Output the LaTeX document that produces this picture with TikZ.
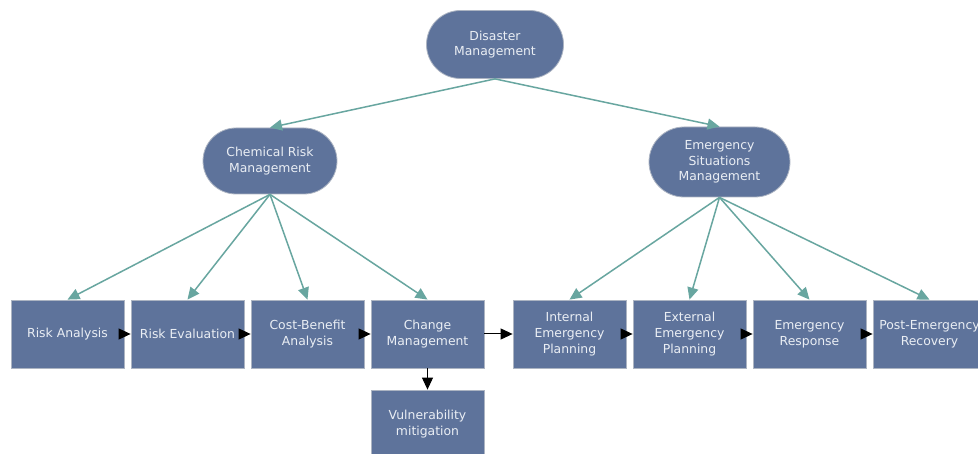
\documentclass[tikz,border=0pt]{standalone}
\usepackage{fontspec}
\setmainfont{DejaVu Sans}
\usetikzlibrary{arrows.meta,shapes.misc}
\definecolor{boxfill}{RGB}{94,115,155}
\definecolor{boxline}{RGB}{172,180,194}
\definecolor{boxtext}{RGB}{234,238,244}
\definecolor{tealedge}{RGB}{104,166,160}
\begin{document}
\begin{tikzpicture}[x=1pt,y=-1pt,
  lbl/.style={text=boxtext, align=center, font=\fontsize{12.4}{15.6}\selectfont, inner sep=0pt},
  pill/.style={lbl, rounded rectangle, draw=boxline, line width=0.8pt, fill=boxfill},
  box/.style={lbl, rectangle, draw=boxline, line width=0.8pt, fill=boxfill, minimum width=113pt, minimum height=68pt},
  tarr/.style={draw=tealedge, line width=1.5pt, -{Triangle[length=12pt,width=11pt]}},
  barr/.style={draw=black, line width=1pt, -{Triangle[length=12pt,width=11pt]}}]
\clip (0,0) rectangle (978,454);
\fill[white] (0,0) rectangle (978,454);
\node[pill, minimum width=137pt, minimum height=68pt] (dm) at (495,44.5) {Disaster\\Management};
\node[pill, minimum width=134pt, minimum height=66pt] (crm) at (270,161) {Chemical Risk\\Management};
\node[pill, minimum width=141pt, minimum height=70pt] (esm) at (719.5,162) {Emergency\\Situations\\Management};
\node[box] (b1) at (67.5,334) {Risk Analysis};
\node[box] (b2) at (187.5,334) {Risk Evaluation};
\node[box] (b3) at (307.5,334) {Cost-Benefit\\Analysis};
\node[box] (b4) at (427.5,334) {Change\\Management};
\node[box] (b5) at (569.5,334) {Internal\\Emergency\\Planning};
\node[box] (b6) at (689.5,334) {External\\Emergency\\Planning};
\node[box] (b7) at (809.5,334) {Emergency\\Response};
\node[box] (b8) at (929.5,334) {Post-Emergency\\Recovery};
\node[box] (vm) at (427.5,424) {Vulnerability\\mitigation};
\draw[tarr] (dm.south) -- (crm.north);
\draw[tarr] (dm.south) -- (esm.north);
\foreach \b in {b1,b2,b3,b4} \draw[tarr] (crm.south) -- (\b.north);
\foreach \b in {b5,b6,b7,b8} \draw[tarr] (esm.south) -- (\b.north);
\draw[barr] (b1) -- (b2);
\draw[barr] (b2) -- (b3);
\draw[barr] (b3) -- (b4);
\draw[barr] (b4) -- (b5);
\draw[barr] (b5) -- (b6);
\draw[barr] (b6) -- (b7);
\draw[barr] (b7) -- (b8);
\draw[barr] (b4) -- (vm);
\end{tikzpicture}
\end{document}
